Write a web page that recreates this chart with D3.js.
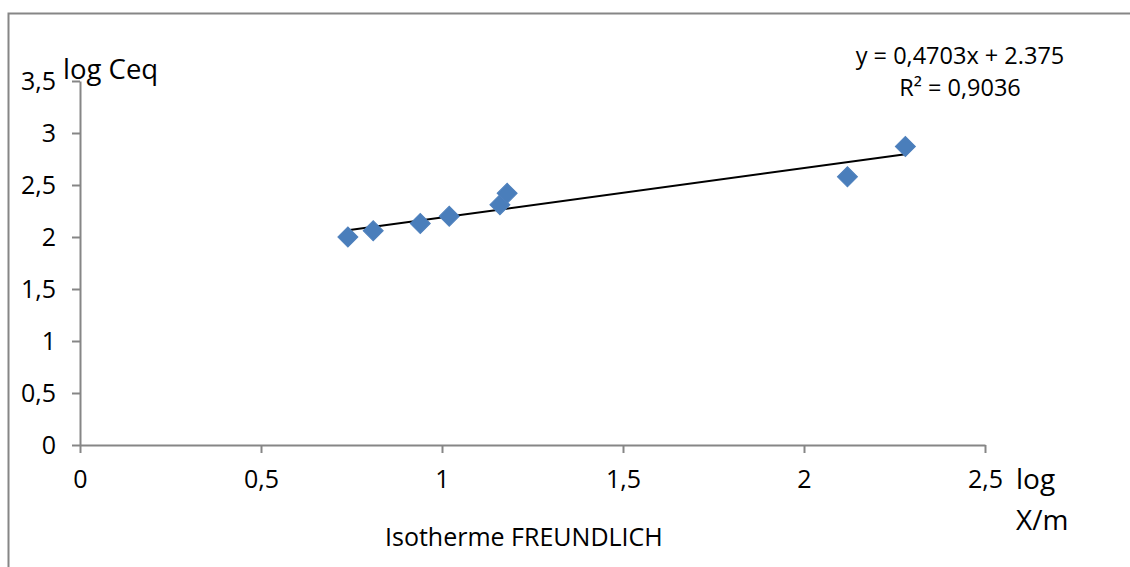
<!DOCTYPE html>
<html>
<head>
<meta charset="utf-8">
<script src="https://cdn.jsdelivr.net/npm/d3@7"></script>
<style>
  html, body { margin: 0; padding: 0; background: #fff; }
  svg { display: block; font-family: "Open Sans", "Noto Sans", sans-serif; }
  .tick text { font-size: 25px; font-family: "Open Sans", sans-serif; fill: #000; }
</style>
</head>
<body>
<svg id="chart" width="1130" height="567"></svg>
<script>
// Freundlich isotherm: log(X/m) against log Ceq
const logXm  = [0.74, 0.81, 0.94, 1.02, 1.16, 1.18, 2.12, 2.28];
const logCeq = [2.00, 2.06, 2.13, 2.20, 2.31, 2.42, 2.58, 2.87];

const xTicks = [0, 0.5, 1, 1.5, 2, 2.5];
const yTicks = [0, 0.5, 1, 1.5, 2, 2.5, 3, 3.5];

const equationLines = ["y = 0,4703x + 2.375", "R² = 0,9036"];
const yTitle = "log Ceq";
const xTitle = ["log", "X/m"];
const caption = "Isotherme FREUNDLICH";

const axisColor = "#868686";
const markerColor = "#4a7ebb";

const svg = d3.select("#chart");

// outer chart frame
svg.append("rect")
  .attr("x", 8.5).attr("y", 13.5)
  .attr("width", 1140).attr("height", 580)
  .attr("fill", "none").attr("stroke", axisColor).attr("stroke-width", 2);

const x = d3.scaleLinear().domain([0, 2.5]).range([80, 985]);
const y = d3.scaleLinear().domain([0, 3.5]).range([445, 81]);

const fmt = d => String(d).replace(".", ",");

// y axis
const gy = svg.append("g")
  .attr("transform", `translate(${x(0)},0)`)
  .call(d3.axisLeft(y).tickValues(yTicks).tickFormat(fmt)
    .tickSize(8).tickSizeOuter(0).tickPadding(16));

// x axis
const gx = svg.append("g")
  .attr("transform", `translate(0,${y(0)})`)
  .call(d3.axisBottom(x).tickValues(xTicks).tickFormat(fmt)
    .tickSize(8).tickSizeOuter(0).tickPadding(17));

[gx, gy].forEach(g => {
  g.attr("font-size", null).attr("font-family", null);
  g.select(".domain").attr("stroke", axisColor).attr("stroke-width", 2);
  g.selectAll(".tick line").attr("stroke", axisColor).attr("stroke-width", 2);
  g.selectAll(".tick text").attr("fill", "#000");
});

// least-squares trend line over the data range
const n = logXm.length;
const mx = d3.mean(logXm), my = d3.mean(logCeq);
let sxy = 0, sxx = 0;
for (let i = 0; i < n; i++) {
  sxy += (logXm[i] - mx) * (logCeq[i] - my);
  sxx += (logXm[i] - mx) ** 2;
}
const slope = sxy / sxx;
const intercept = my - slope * mx;
const [x0, x1] = d3.extent(logXm);

svg.append("line")
  .attr("x1", x(x0)).attr("y1", y(slope * x0 + intercept))
  .attr("x2", x(x1)).attr("y2", y(slope * x1 + intercept))
  .attr("stroke", "#000").attr("stroke-width", 2);

// diamond markers
const diamond = d3.symbol().type(d3.symbolSquare).size(200);
svg.append("g").selectAll("path")
  .data(logXm.map((v, i) => [v, logCeq[i]]))
  .join("path")
  .attr("d", diamond)
  .attr("transform", d => `translate(${x(d[0])},${y(d[1])}) rotate(45)`)
  .attr("fill", markerColor)
  .attr("stroke", "#4f81bd").attr("stroke-width", 1);

// titles
svg.append("text")
  .attr("x", 63).attr("y", 79)
  .style("font-size", "27.5px")
  .text(yTitle);

svg.selectAll(".xtitle")
  .data(xTitle)
  .join("text")
  .attr("class", "xtitle")
  .attr("x", 1016).attr("y", (d, i) => 489 + i * 41)
  .style("font-size", "28px")
  .text(d => d);

svg.append("text")
  .attr("x", 385).attr("y", 546)
  .style("font-size", "25px")
  .text(caption);

// regression equation
svg.selectAll(".eq")
  .data(equationLines)
  .join("text")
  .attr("class", "eq")
  .attr("x", 960).attr("y", (d, i) => 64 + i * 32)
  .attr("text-anchor", "middle")
  .style("font-size", "23.5px")
  .text(d => d);
</script>
</body>
</html>
